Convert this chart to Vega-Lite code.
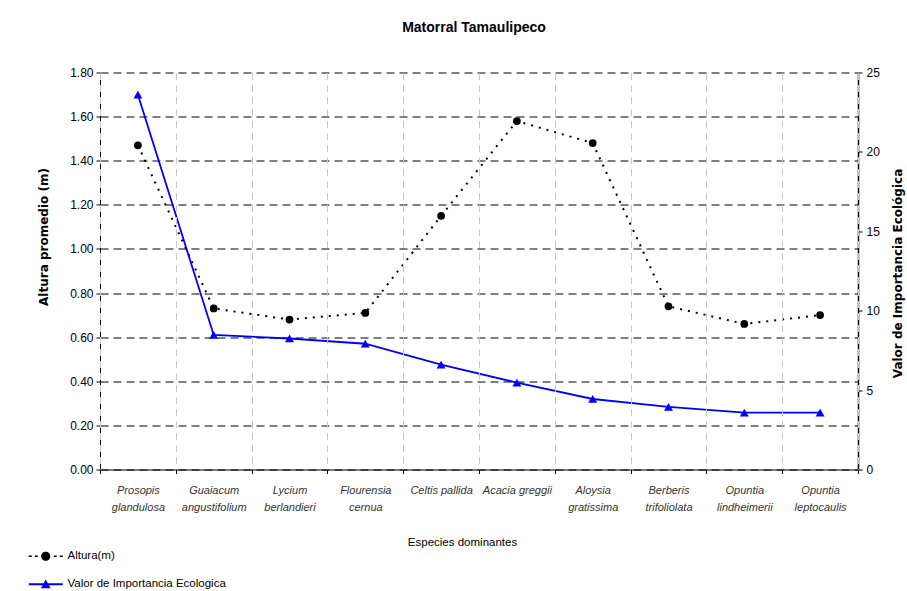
{
  "$schema": "https://vega.github.io/schema/vega-lite/v6.json",
  "autosize": "none",
  "width": 758,
  "height": 397,
  "padding": {"left": 100, "top": 72.5, "right": 49, "bottom": 121.5},
  "background": "white",
  "title": {
    "text": "Matorral Tamaulipeco",
    "font": "Liberation Sans, Arial, sans-serif",
    "fontSize": 14,
    "fontWeight": "bold",
    "color": "#000000",
    "anchor": "middle",
    "frame": "group",
    "baseline": "alphabetic",
    "offset": 21,
    "dx": -5
  },
  "data": {
    "values": [
      {"species": "Prosopis glandulosa", "altura": 1.47, "vie": 23.6},
      {"species": "Guaiacum angustifolium", "altura": 0.73, "vie": 8.47},
      {"species": "Lycium berlandieri", "altura": 0.68, "vie": 8.25},
      {"species": "Flourensia cernua", "altura": 0.71, "vie": 7.92},
      {"species": "Celtis pallida", "altura": 1.15, "vie": 6.6},
      {"species": "Acacia greggii", "altura": 1.58, "vie": 5.47},
      {"species": "Aloysia gratissima", "altura": 1.48, "vie": 4.44},
      {"species": "Berberis trifoliolata", "altura": 0.74, "vie": 3.94},
      {"species": "Opuntia lindheimerii", "altura": 0.66, "vie": 3.58},
      {"species": "Opuntia leptocaulis", "altura": 0.70, "vie": 3.58}
    ]
  },
  "encoding": {
    "x": {
      "field": "species",
      "type": "nominal",
      "sort": null,
      "scale": {"type": "band", "paddingInner": 0, "paddingOuter": 0},
      "axis": {
        "title": "Especies dominantes",
        "titleFont": "Liberation Sans, Arial, sans-serif",
        "titleFontSize": 11.5,
        "titleFontWeight": "normal",
        "titleColor": "#000000",
        "titleX": 362,
        "titleY": 72.5,
        "titleBaseline": "middle",
        "titleAlign": "center",
        "labelAngle": 0,
        "labelFont": "Liberation Sans, Arial, sans-serif",
        "labelFontStyle": "italic",
        "labelFontSize": 11,
        "labelColor": "#333333",
        "labelBaseline": "top",
        "labelPadding": 11,
        "labelLineHeight": 17,
        "labelExpr": "(datum.label == 'Celtis pallida' || datum.label == 'Acacia greggii') ? datum.label : split(datum.label, ' ')",
        "tickBand": "extent",
        "ticks": true,
        "tickSize": 4,
        "tickColor": "#000000",
        "domainColor": "#000000",
        "domainWidth": 1,
        "grid": true,
        "gridColor": "#c8c8c8",
        "gridDash": [7, 5],
        "gridWidth": 1,
        "zindex": 1
      }
    }
  },
  "layer": [
    {
      "encoding": {
        "y": {
          "field": "altura",
          "type": "quantitative",
          "scale": {"domain": [0, 1.8], "nice": false, "zero": true},
          "axis": {
            "orient": "left",
            "title": "Altura promedio (m)",
            "titleFont": "DejaVu Sans, sans-serif",
            "titleFontSize": 12,
            "titleFontWeight": "bold",
            "titleColor": "#000000",
            "titleAngle": 270,
            "titleAlign": "center",
            "titleBaseline": "middle",
            "titleX": -57,
            "titleY": 164,
            "values": [0, 0.2, 0.4, 0.6, 0.8, 1.0, 1.2, 1.4, 1.6, 1.8],
            "format": ".2f",
            "labelFont": "Liberation Sans, Arial, sans-serif",
            "labelFontSize": 12,
            "labelColor": "#000000",
            "labelPadding": 3,
            "tickSize": 4,
            "tickColor": "#000000",
            "domainColor": "#000000",
            "grid": true,
            "gridColor": "#000000",
            "gridDash": [8, 5],
            "gridWidth": 1
          }
        }
      },
      "layer": [
        {
          "mark": {"type": "line", "color": "#000000", "strokeWidth": 2, "strokeDash": [2, 6]}
        },
        {
          "mark": {"type": "point", "shape": "circle", "filled": true, "size": 60, "opacity": 1, "color": "#000000"}
        },
        {
          "mark": {"type": "point", "filled": true, "opacity": 0, "size": 64},
          "encoding": {
            "shape": {
              "datum": "Altura(m)",
              "scale": {
                "domain": ["Altura(m)", "Valor de Importancia Ecologica"],
                "range": [
                  "M-4.25,-0.2H-3.5V0.2H-4.25ZM-2.75,-0.2H-2V0.2H-2.75ZM2,-0.2H2.75V0.2H2ZM3.5,-0.2H4.25V0.2H3.5ZM-1.15,0A1.15,1.15 0 1,1 1.15,0A1.15,1.15 0 1,1 -1.15,0Z",
                  "M-4.25,-0.22H4.25V0.22H-4.25ZM0,-1.2L1.2,1L-1.2,1Z"
                ]
              },
              "legend": {
                "title": null,
                "orient": "none",
                "legendX": -60,
                "legendY": 478,
                "direction": "vertical",
                "padding": 0,
                "symbolSize": 64,
                "symbolOpacity": 1,
                "symbolStrokeWidth": 0,
                "labelOffset": 16,
                "rowPadding": 15,
                "labelFont": "Liberation Sans, Arial, sans-serif",
                "labelFontSize": 11.5,
                "labelColor": "#000000",
                "labelLimit": 300
              }
            },
            "color": {
              "datum": "Altura(m)",
              "scale": {"domain": ["Altura(m)", "Valor de Importancia Ecologica"], "range": ["#000000", "#0000ff"]},
              "legend": {
                "title": null,
                "orient": "none",
                "legendX": -60,
                "legendY": 478,
                "direction": "vertical",
                "padding": 0,
                "symbolSize": 64,
                "symbolOpacity": 1,
                "symbolStrokeWidth": 0,
                "labelOffset": 16,
                "rowPadding": 15,
                "labelFont": "Liberation Sans, Arial, sans-serif",
                "labelFontSize": 11.5,
                "labelColor": "#000000",
                "labelLimit": 300
              }
            }
          }
        }
      ]
    },
    {
      "encoding": {
        "y": {
          "field": "vie",
          "type": "quantitative",
          "scale": {"domain": [0, 25], "nice": false, "zero": true},
          "axis": {
            "orient": "right",
            "title": "Valor de Importancia Ecológica",
            "titleFont": "DejaVu Sans, sans-serif",
            "titleFontSize": 12,
            "titleFontWeight": "bold",
            "titleColor": "#000000",
            "titleAngle": 270,
            "titleAlign": "center",
            "titleBaseline": "middle",
            "titleX": 39,
            "titleY": 200.5,
            "values": [0, 5, 10, 15, 20, 25],
            "labelFont": "Liberation Sans, Arial, sans-serif",
            "labelFontSize": 12,
            "labelColor": "#000000",
            "labelPadding": 4,
            "tickSize": 4,
            "tickColor": "#000000",
            "domainColor": "#000000",
            "domainWidth": 1.5,
            "grid": false
          }
        }
      },
      "layer": [
        {
          "mark": {"type": "line", "color": "#0000ff", "strokeWidth": 1.8}
        },
        {
          "mark": {"type": "point", "shape": "triangle-up", "filled": true, "size": 80, "opacity": 1, "color": "#0000ff"}
        },
        {
          "mark": {"type": "point", "filled": true, "opacity": 0, "size": 64},
          "encoding": {
            "shape": {"datum": "Valor de Importancia Ecologica"},
            "color": {"datum": "Valor de Importancia Ecologica"}
          }
        }
      ]
    }
  ],
  "resolve": {"scale": {"y": "independent"}, "axis": {"y": "independent"}},
  "config": {
    "view": {"stroke": null},
    "font": "Liberation Sans, Arial, sans-serif"
  }
}
